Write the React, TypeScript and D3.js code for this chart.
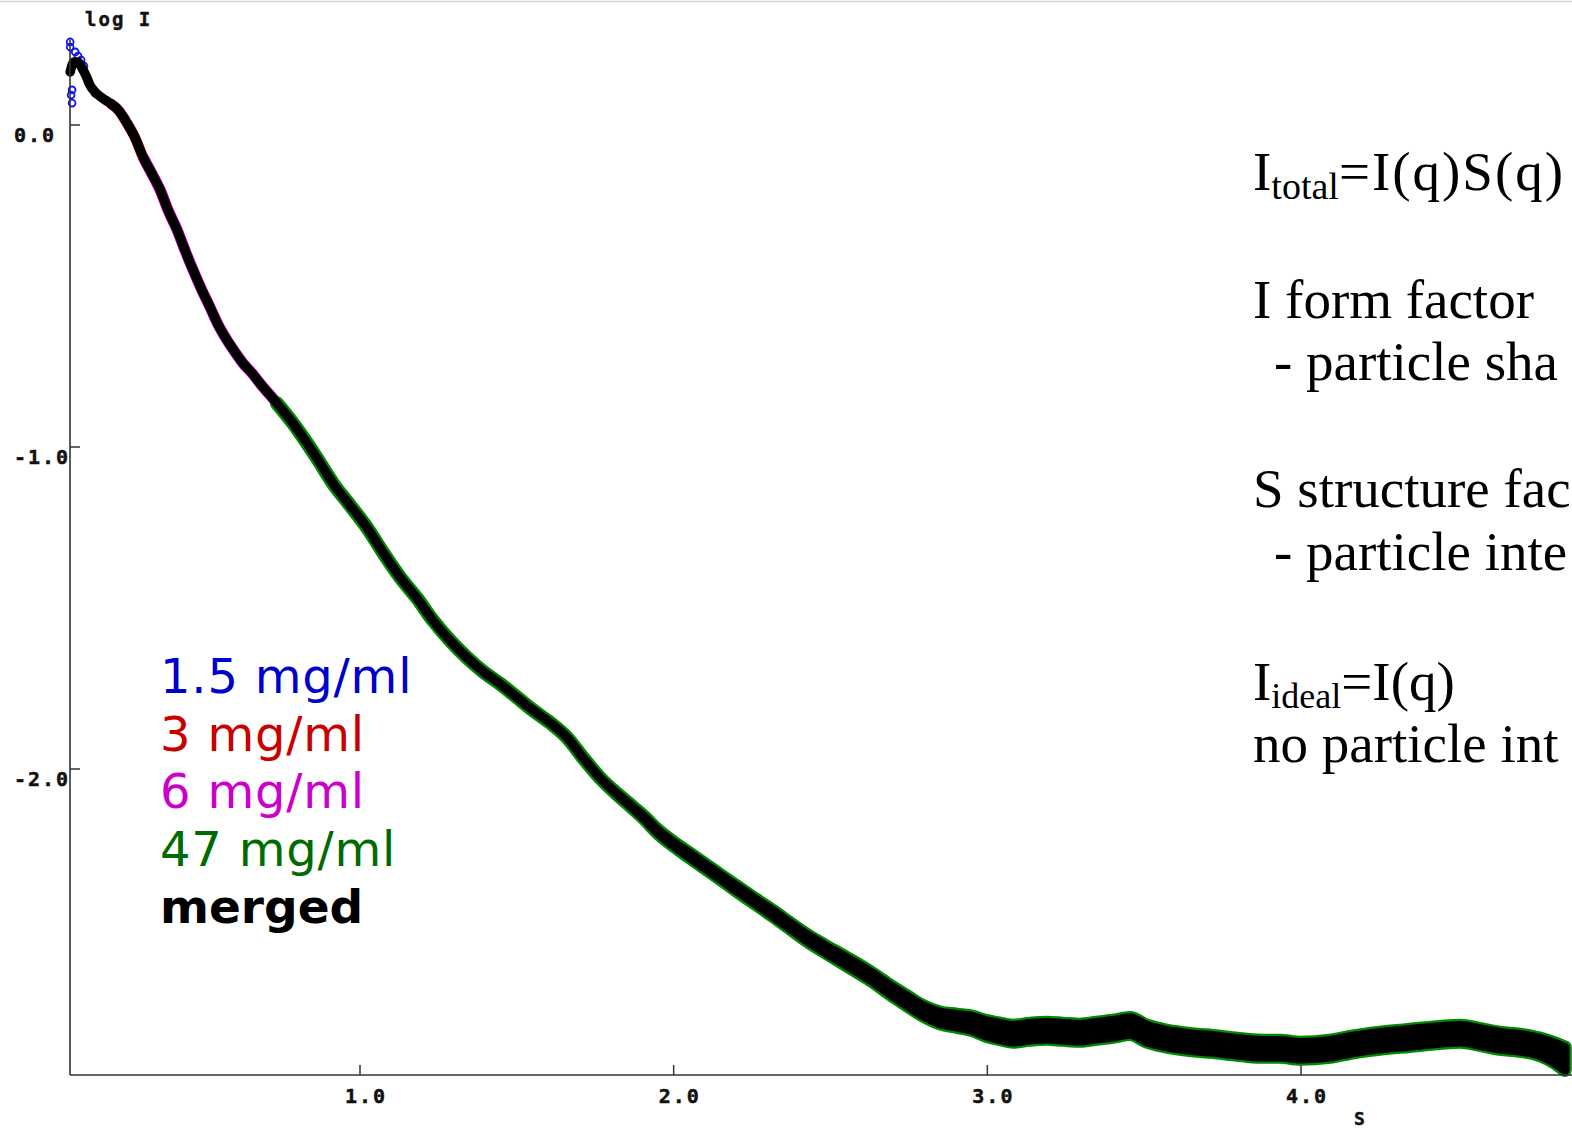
import React from "react";
import * as d3 from "d3";

// ---- data (s in nm^-1, log I) ----
const mergedS = [
  0.076, 0.088, 0.101, 0.114, 0.127, 0.139, 0.155, 0.178, 0.203, 0.229, 0.257,
  0.283, 0.308, 0.337, 0.363, 0.388, 0.417, 0.442, 0.468, 0.496, 0.522,
  0.547, 0.576, 0.602, 0.627, 0.656, 0.681, 0.735, 0.786, 0.809, 0.863,
  0.914, 0.968, 1.022, 1.073, 1.128, 1.182, 1.233, 1.287, 1.341, 1.392,
  1.446, 1.501, 1.552, 1.606, 1.66, 1.711, 1.765, 1.819, 1.87, 1.909,
  1.947, 1.998, 2.052, 2.106, 2.157, 2.211, 2.266, 2.317, 2.371, 2.425,
  2.476, 2.53, 2.584, 2.635, 2.69, 2.744, 2.795, 2.849, 2.903, 2.954,
  2.992, 3.031, 3.082, 3.136, 3.19, 3.241, 3.295, 3.349, 3.4, 3.455,
  3.509, 3.56, 3.614, 3.668, 3.719, 3.773, 3.828, 3.882, 3.933, 3.997,
  4.092, 4.156, 4.252, 4.347, 4.443, 4.507, 4.57, 4.634, 4.698, 4.762,
  4.809, 4.841,
];
const mergedLogI = [
  0.165, 0.196, 0.196, 0.177, 0.152, 0.124, 0.103, 0.084, 0.068, 0.047, 0.006,
  -0.04, -0.099, -0.152, -0.202, -0.264, -0.326, -0.389, -0.451, -0.513, -0.566,
  -0.619, -0.668, -0.706, -0.74, -0.771, -0.802, -0.864, -0.926, -0.957, -1.035,
  -1.113, -1.181, -1.25, -1.327, -1.405, -1.47, -1.539, -1.601, -1.654, -1.697,
  -1.735, -1.778, -1.818, -1.856, -1.902, -1.965, -2.027, -2.077, -2.12, -2.154,
  -2.192, -2.232, -2.269, -2.306, -2.341, -2.378, -2.415, -2.449, -2.487, -2.524,
  -2.555, -2.586, -2.617, -2.648, -2.686, -2.72, -2.751, -2.773, -2.782, -2.791,
  -2.804, -2.813, -2.822, -2.816, -2.813, -2.816, -2.819, -2.813, -2.807, -2.798,
  -2.822, -2.835, -2.844, -2.85, -2.854, -2.86, -2.866, -2.869, -2.869, -2.875,
  -2.869, -2.857, -2.844, -2.835, -2.826, -2.822, -2.832, -2.844, -2.85, -2.863,
  -2.882, -2.9,
];
// scatter (noise half-width, log I units) of the measured points
const mergedSpread = [
  0, 0, 0, 0, 0, 0, 0, 0, 0, 0, 0,
  0, 0, 0, 0, 0, 0, 0, 0, 0, 0,
  0, 0, 0, 0, 0, 0, 0, 0, 0, 0,
  0, 0, 0, 0, 0, 0, 0, 0, 0, 0,
  0, 0, 0, 0, 0, 0, 0, 0.001, 0.002, 0.003,
  0.004, 0.005, 0.006, 0.006, 0.006, 0.007, 0.007, 0.008, 0.008, 0.009,
  0.01, 0.011, 0.012, 0.012, 0.013, 0.014, 0.015, 0.017, 0.019, 0.021,
  0.023, 0.024, 0.025, 0.025, 0.025, 0.025, 0.025, 0.025, 0.025, 0.025,
  0.025, 0.025, 0.025, 0.025, 0.025, 0.025, 0.025, 0.025, 0.025, 0.025,
  0.025, 0.025, 0.025, 0.025, 0.025, 0.025, 0.025, 0.025, 0.025, 0.026,
  0.03, 0.035,
];

// 1.5 mg/ml points visible at the very start
const blueS = [0.076, 0.076, 0.082, 0.079, 0.082, 0.092, 0.101, 0.111, 0.12, 0.133, 0.155, 0.187, 0.219, 0.251];
const blueLogI = [0.258, 0.242, 0.109, 0.093, 0.068, 0.227, 0.214, 0.202, 0.183, 0.134, 0.099, 0.078, 0.059, 0.022];

const xTicks = [1, 2, 3, 4];
const xTickLabels = ["1.0", "2.0", "3.0", "4.0"];
const yTicks = [0, -1, -2];
const yTickLabels = ["0.0", "-1.0", "-2.0"];

const legendLabels = ["1.5 mg/ml", "3 mg/ml", "6 mg/ml", "47 mg/ml", "merged"];
const legendColors = ["#0000cc", "#c80000", "#cc00cc", "#006b00", "#000000"];

type Pt = { s: number; v: number; e: number };

export default function App() {
  const W = 1572;
  const H = 1129;
  const left = 70;
  const top = 40;
  const bottom = 1075;
  const right = 1572;

  const x = d3.scaleLinear().domain([1, 4]).range([360, 1301]);
  const y = d3.scaleLinear().domain([0, -2]).range([125, 769]);

  const merged: Pt[] = mergedS.map((s, i) => ({ s, v: mergedLogI[i], e: mergedSpread[i] }));
  const green = merged.filter((d) => d.s >= 0.73);
  const magenta = merged.filter((d) => d.s >= 0.3 && d.s <= 0.97);
  const red = merged.filter((d) => d.s >= 0.2 && d.s <= 0.45);

  const line = d3
    .line<Pt>()
    .x((d) => x(d.s))
    .y((d) => y(d.v))
    .curve(d3.curveMonotoneX);
  const band = d3
    .area<Pt>()
    .x((d) => x(d.s))
    .y0((d) => y(d.v - d.e))
    .y1((d) => y(d.v + d.e))
    .curve(d3.curveMonotoneX);

  const mono = "'DejaVu Sans Mono', monospace";
  const serif = "'Liberation Serif', 'Times New Roman', serif";
  const sans = "'DejaVu Sans', Verdana, sans-serif";

  return (
    <svg
      width={W}
      height={H}
      style={{ position: "absolute", left: 0, top: 0, display: "block", background: "#fff" }}
    >
      <rect x={0} y={0} width={W} height={H} fill="#fff" />
      <line x1={0} x2={W} y1={1.5} y2={1.5} stroke="#d4d4d4" strokeWidth={1.5} />

      {/* series under the merged curve */}
      <path d={line(red) || ""} fill="none" stroke="#dd0000" strokeWidth={10.5} strokeLinejoin="round" />
      <path d={line(magenta) || ""} fill="none" stroke="#d000d0" strokeWidth={11} strokeLinejoin="round" />
      <path d={band(green) || ""} fill="#008a00" stroke="#008a00" strokeWidth={14} strokeLinejoin="round" />
      {blueS.map((s, i) => (
        <circle key={i} cx={x(s)} cy={y(blueLogI[i])} r={3.4} fill="none" stroke="#1010ff" strokeWidth={1.8} />
      ))}

      {/* merged */}
      <path d={band(merged) || ""} fill="#000" stroke="#000" strokeWidth={9.5} strokeLinejoin="round" strokeLinecap="round" />

      {/* axes */}
      <line x1={left} x2={left} y1={top} y2={bottom} stroke="#333" strokeWidth={1.6} />
      <line x1={left} x2={right} y1={bottom} y2={bottom} stroke="#333" strokeWidth={1.6} />
      {yTicks.map((t, i) => (
        <g key={"y" + i}>
          <line x1={left} x2={left + 10} y1={y(t)} y2={y(t)} stroke="#333" strokeWidth={1.5} />
          <text x={14} y={y(t) + 17} fontFamily={mono} fontWeight="bold" fontSize={20} letterSpacing={2}
            fill="#111" stroke="#111" strokeWidth={0.5}>
            {yTickLabels[i]}
          </text>
        </g>
      ))}
      {xTicks.map((t, i) => (
        <g key={"x" + i}>
          <line x1={x(t)} x2={x(t)} y1={bottom} y2={bottom - 10} stroke="#333" strokeWidth={1.5} />
          <text x={x(t) - 15} y={1103} fontFamily={mono} fontWeight="bold" fontSize={20} letterSpacing={2}
            fill="#111" stroke="#111" strokeWidth={0.5}>
            {xTickLabels[i]}
          </text>
        </g>
      ))}
      <text x={85} y={26} fontFamily={mono} fontWeight="bold" fontSize={19} letterSpacing={2}
        fill="#111" stroke="#111" strokeWidth={0.4}>
        log I
      </text>
      <text x={1354} y={1125} fontFamily={mono} fontWeight="bold" fontSize={18}
        fill="#111" stroke="#111" strokeWidth={0.4}>
        S
      </text>

      {/* legend */}
      {legendLabels.map((l, i) => (
        <text
          key={l}
          x={160}
          y={693 + i * 57.5}
          fontFamily={sans}
          fontWeight={i === 4 ? "bold" : "normal"}
          fontSize={i === 4 ? 47 : 48}
          letterSpacing={i === 4 ? 0 : 0.8}
          fill={legendColors[i]}
        >
          {l}
        </text>
      ))}

      {/* annotation text (cut by the right edge in the reference) */}
      <g fontFamily={serif} fontSize={55} fill="#000">
        <text x={1253} y={190}>
          I<tspan fontSize={38} dy={9}>total</tspan>
          <tspan dy={-9} letterSpacing={2}>=I(q)S(q)</tspan>
        </text>
        <text x={1253} y={318}>I form factor</text>
        <text x={1274} y={380}>- particle sha</text>
        <text x={1253} y={507}>S structure fac</text>
        <text x={1274} y={570}>- particle inte</text>
        <text x={1253} y={700}>
          I<tspan fontSize={36} dy={8}>ideal</tspan>
          <tspan dy={-8}>=I(q)</tspan>
        </text>
        <text x={1253} y={762}>no particle int</text>
      </g>
    </svg>
  );
}
